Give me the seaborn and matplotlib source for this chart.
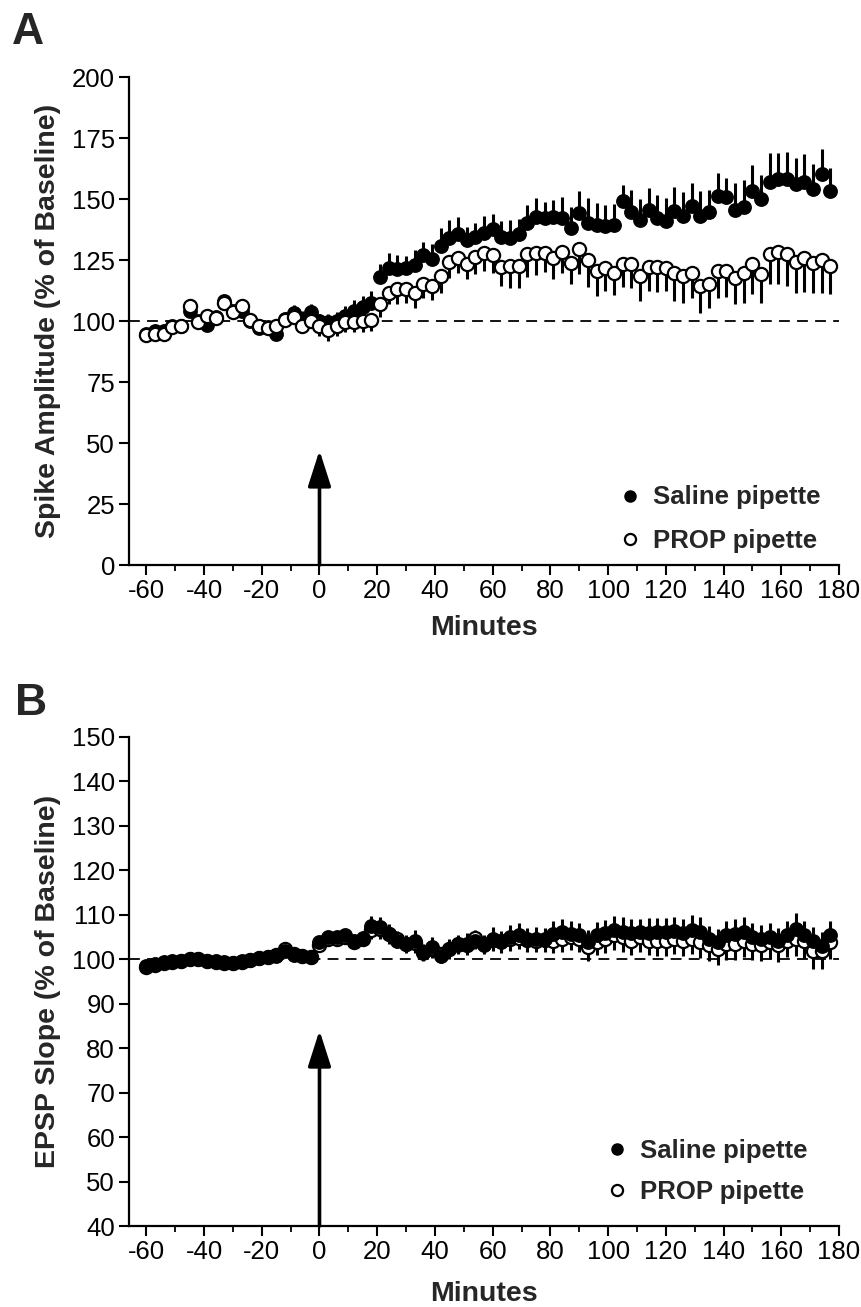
import numpy as np
import pandas as pd
import matplotlib
matplotlib.use("Agg")
import matplotlib.pyplot as plt
from matplotlib.lines import Line2D
from matplotlib.ticker import MultipleLocator
import seaborn as sns

# ---------------- data ----------------
minutes = [-60, -57, -54, -51, -48, -45, -42, -39, -36, -33, -30, -27, -24, -21, -18, -15,
           -12, -9, -6, -3, 0, 3, 6, 9, 12, 15, 18, 21, 24, 27, 30, 33, 36, 39, 42, 45,
           48, 51, 54, 57, 60, 63, 66, 69, 72, 75, 78, 81, 84, 87, 90, 93, 96, 99, 102,
           105, 108, 111, 114, 117, 120, 123, 126, 129, 132, 135, 138, 141, 144, 147, 150,
           153, 156, 159, 162, 165, 168, 171, 174, 177]

spike_saline = [94.5, 96, 96, 98, 98, 104, 100, 98.5, 101.5, 108, 104, 104, 100, 97, 97.5, 94.5,
                101, 103.4, 101, 103.8, 100, 99.5, 100, 102, 104, 105.8, 107.5, 118, 121.8, 121.2,
                121.8, 123, 126.9, 125.3, 130.7, 133.9, 135.8, 133.2, 134.6, 136.2, 137.6, 134.4,
                133.9, 135.5, 140, 142.6, 142.3, 142.6, 142.3, 138, 144.4, 140.3, 139.3, 139,
                139.3, 149.2, 144.8, 141.4, 145.5, 142.3, 141, 145.1, 143.1, 147.1, 143.1, 144.5,
                151.2, 150.8, 145.4, 146.7, 153.3, 149.9, 157.1, 158, 158, 156.3, 157.1, 154,
                160.1, 153.3]
spike_saline_sem = [2, 2, 1.5, 2, 2, 2.5, 2, 2, 2, 2.5, 2, 2.5, 2, 2, 2.5, 2.5, 2.5, 3, 3, 3,
                    3, 3.5, 3.5, 4, 4.5, 4.5, 5, 5.5, 6, 6, 5, 6, 5.6, 6.4, 7.5, 7.4, 6.8, 5.3,
                    5.7, 6.8, 6.1, 6.6, 7.4, 6.1, 7.4, 7.9, 6.4, 7, 8.5, 8.7, 8.9, 10.2, 9.2,
                    8.7, 8.5, 6.5, 8.7, 8.7, 9.2, 9.3, 9.3, 9.8, 9.6, 9.3, 10, 9.2, 9.6, 7.7,
                    11.3, 10.9, 10.5, 10, 11.9, 10.9, 11.3, 10.4, 11.2, 10.2, 10.2, 9.3]

spike_prop = [94.1, 94.5, 94.5, 97.5, 97.9, 106.1, 99.6, 102, 101.4, 107.5, 103.8, 106.1, 100.3,
              97.9, 97.3, 97.9, 100.3, 101.6, 97.9, 100, 97.9, 96.3, 97.9, 99.6, 99.6, 100,
              100.3, 107, 111.6, 113, 113.3, 111.3, 115.3, 114.3, 118.4, 124.3, 125.7, 123.2,
              126.2, 128, 127, 122.1, 122.5, 122.5, 127.3, 127.7, 128, 126, 128.2, 123.9, 129.6,
              124.9, 120.5, 121.8, 119.8, 123.2, 123.5, 118.4, 122.2, 122.2, 121.8, 119.8, 118.4,
              119.8, 114.3, 115.3, 120.3, 120.3, 117.5, 119.8, 123.5, 119.1, 127.3, 128.3, 127.3,
              124.3, 125.7, 123.9, 124.9, 122.6]
spike_prop_sem = [1.5, 2, 2, 2, 1.5, 2, 2, 1.5, 2, 2, 2, 2, 2, 2, 2, 2.5, 2.5, 3, 3, 3,
                  4, 4.5, 4, 4, 4, 4.5, 4.5, 5.5, 4.8, 5.9, 6.1, 5.9, 5.7, 5.5, 6.8, 6.6, 5.9,
                  6.1, 6.8, 7.5, 7.2, 7.8, 8.9, 8.9, 9.3, 8.9, 7.8, 8.9, 8.5, 8.9, 10.5, 10.9,
                  10.2, 9.6, 9.2, 9.3, 9.8, 10.2, 9.8, 10.5, 9.3, 11.6, 10.9, 10.2, 10.9, 10.1,
                  10.7, 10.4, 10.7, 12.3, 12.6, 11.6, 12.3, 13.3, 13, 12.7, 14, 12.3, 13.3, 11.6]

epsp_saline = [98.5, 99, 99.3, 99.5, 99.6, 100, 100, 99.7, 99.5, 99.4, 99.2, 99.5, 99.8, 100.3,
               100.5, 100.8, 101.8, 101, 100.7, 100.5, 103.8, 105, 105, 105.5, 104, 104.8, 107.5,
               107.2, 105.7, 104.2, 103.4, 104.2, 101.4, 102.7, 100.8, 102.3, 103.1, 103.4, 104,
               103.1, 104.6, 103.9, 105, 105.4, 104.6, 104.6, 104.5, 105.7, 106.1, 105.7, 105.4,
               103.9, 105.4, 105.8, 106.5, 106.1, 106, 106.1, 106, 106.1, 106.1, 106.3, 106, 106.5,
               106.1, 104.5, 103.9, 105.4, 105.7, 106.1, 105, 104.6, 105, 104.2, 105.4, 106.9,
               105.4, 104.2, 103, 105.4]
epsp_saline_sem = [0.8, 0.8, 0.7, 0.7, 0.7, 0.8, 0.7, 0.7, 0.8, 0.7, 0.8, 0.8, 0.7, 0.8, 0.8,
                   0.8, 1.2, 0.9, 0.9, 0.9, 1.2, 1.3, 1.3, 1.4, 1.4, 1.5, 2.2, 2.4, 2.2, 2.2, 2.0,
                   2.3, 2.0, 2.2, 2.0, 2.2, 2.3, 2.4, 2.5, 2.3, 2.6, 2.4, 2.6, 2.7, 2.5, 2.6, 2.6,
                   2.8, 2.9, 2.8, 2.7, 2.6, 2.9, 3.0, 3.2, 3.3, 3.1, 3.0, 3.2, 3.1, 3.2, 3.3, 3.1,
                   3.4, 3.3, 3.0, 2.9, 3.2, 3.3, 3.4, 3.1, 3.0, 3.1, 2.9, 3.2, 3.6, 3.2, 3.0, 3.1, 3.3]

epsp_prop = [98.2, 98.8, 99.2, 99.4, 99.6, 100, 100.1, 99.6, 99.4, 99.2, 99.1, 99.4, 99.8, 100.3,
             100.5, 101, 102.3, 101.2, 100.8, 100.5, 103.3, 104.5, 104.6, 105, 103.9, 104.5, 106.5,
             106.8, 105.6, 104.6, 103.4, 103.6, 101.6, 102.4, 101.2, 102.3, 103.4, 103.2, 104.8,
             103.5, 104.3, 104, 104.5, 104.8, 104.4, 104.2, 104.4, 104.2, 104.5, 105, 104.6, 102.7,
             103.9, 104.5, 105.4, 105, 104.2, 105, 104.2, 104.2, 104.2, 104.6, 104.2, 104.6, 103.9,
             103.1, 102.3, 103.4, 103.4, 104.2, 103.4, 103.1, 103.9, 103.1, 104.2, 104.6, 104.2,
             101.9, 101.9, 103.9]
epsp_prop_sem = [0.8, 0.7, 0.7, 0.7, 0.8, 0.7, 0.7, 0.8, 0.7, 0.7, 0.8, 0.7, 0.8, 0.8, 0.8,
                 0.9, 1.0, 0.9, 0.9, 0.9, 1.2, 1.3, 1.3, 1.3, 1.4, 1.5, 2.0, 2.2, 2.1, 2.1, 2.0,
                 2.1, 2.0, 2.1, 2.0, 2.2, 2.3, 2.3, 2.4, 2.4, 2.5, 2.5, 2.6, 2.6, 2.7, 2.6, 2.7,
                 2.8, 2.8, 2.9, 3.0, 3.1, 3.0, 3.2, 3.3, 3.4, 3.3, 3.4, 3.3, 3.5, 3.4, 3.4, 3.5,
                 3.5, 3.6, 3.6, 3.7, 3.5, 3.6, 3.7, 3.6, 3.6, 3.8, 3.7, 3.8, 3.8, 3.9, 4.2, 4.0, 3.9]

group_labels = ["Saline pipette", "PROP pipette"]
x_ticks = [-60, -40, -20, 0, 20, 40, 60, 80, 100, 120, 140, 160, 180]
yticks_a = [0, 25, 50, 75, 100, 125, 150, 175, 200]
yticks_b = [40, 50, 60, 70, 80, 90, 100, 110, 120, 130, 140, 150]

# ---------------- style ----------------
sns.set_theme(style="ticks")
plt.rcParams["font.family"] = ["Liberation Sans", "DejaVu Sans"]
plt.rcParams["axes.unicode_minus"] = False

W, H = 861, 1307
fig = plt.figure(figsize=(W / 100, H / 100), dpi=100)
axA = fig.add_axes([129 / W, 1 - 565 / H, 710 / W, 488 / H])
axB = fig.add_axes([129 / W, 1 - 1226 / H, 710 / W, 489 / H])


def draw_panel(ax, sal, sal_sem, prop, prop_sem, ylim, yticks, ylabel, arrow_top,
               prop_on_top, legend_anchor, labelspacing, xlabelpad):
    df_s = pd.DataFrame({"t": minutes, "v": sal, "e": sal_sem})
    df_p = pd.DataFrame({"t": minutes, "v": prop, "e": prop_sem})
    ax.axhline(100, color="black", lw=1.3, ls=(0, (6, 4)), zorder=1)
    # error bars: saline up, prop down
    ax.errorbar(df_s["t"], df_s["v"], yerr=[np.zeros(len(df_s)), df_s["e"]], fmt="none",
                ecolor="black", elinewidth=2.2, capsize=0, zorder=2)
    ax.errorbar(df_p["t"], df_p["v"], yerr=[df_p["e"], np.zeros(len(df_p))], fmt="none",
                ecolor="black", elinewidth=2.2, capsize=0, zorder=2)
    zs, zp = (3, 4) if prop_on_top else (4, 3)
    sns.scatterplot(data=df_s, x="t", y="v", ax=ax, color="black", edgecolor="black",
                    s=90, linewidth=1.2, zorder=zs, legend=False)
    sns.scatterplot(data=df_p, x="t", y="v", ax=ax, color="white", edgecolor="black",
                    s=90, linewidth=1.6, zorder=zp, legend=False)
    ax.annotate("", xy=(0, arrow_top), xytext=(0, ylim[0]),
                arrowprops=dict(arrowstyle="-|>,head_length=1.0,head_width=0.32",
                                mutation_scale=22, lw=2.6, color="black",
                                shrinkA=0, shrinkB=0), zorder=5)
    ax.set_xlim(-66, 180)
    ax.set_ylim(*ylim)
    ax.set_xticks(x_ticks)
    ax.set_xticklabels([str(v) for v in x_ticks])
    ax.xaxis.set_minor_locator(MultipleLocator(10))
    ax.set_yticks(yticks)
    ax.set_yticklabels([str(v) for v in yticks])
    ax.tick_params(axis="both", which="major", direction="out", length=7, width=1.5,
                   labelsize=18.5, color="black", labelcolor="black", pad=3)
    ax.tick_params(axis="x", which="minor", direction="out", length=4, width=1.3, color="black")
    for sp in ["top", "right"]:
        ax.spines[sp].set_visible(False)
    for sp in ["left", "bottom"]:
        ax.spines[sp].set_linewidth(1.6)
        ax.spines[sp].set_color("black")
    ax.set_xlabel("Minutes", fontsize=20.5, fontweight="bold", labelpad=xlabelpad)
    ax.set_ylabel(ylabel, fontsize=20.5, fontweight="bold", labelpad=8)
    handles = [
        Line2D([], [], ls="none", marker="o", markersize=8, markerfacecolor="black",
               markeredgecolor="black", label=group_labels[0]),
        Line2D([], [], ls="none", marker="o", markersize=8, markerfacecolor="white",
               markeredgecolor="black", markeredgewidth=1.6, label=group_labels[1]),
    ]
    leg = ax.legend(handles=handles, loc="lower left", bbox_to_anchor=legend_anchor,
                    frameon=False, prop={"weight": "bold", "size": 18.5},
                    handletextpad=0.4, labelspacing=labelspacing, handlelength=1.0,
                    borderaxespad=0)
    return leg


draw_panel(axA, spike_saline, spike_saline_sem, spike_prop, spike_prop_sem, (0, 200), yticks_a,
           "Spike Amplitude (% of Baseline)", 47, True, (0.673, 0.004), 0.75, 9)
draw_panel(axB, epsp_saline, epsp_saline_sem, epsp_prop, epsp_prop_sem, (40, 150), yticks_b,
           "EPSP Slope (% of Baseline)", 84, False, (0.655, 0.024), 0.65, 12)

fig.text(12 / W, 1 - 44 / H, "A", fontsize=32, fontweight="bold", ha="left", va="baseline")
fig.text(15 / W, 1 - 715 / H, "B", fontsize=32, fontweight="bold", ha="left", va="baseline")

fig.savefig("out.png", dpi=100, facecolor="white")
